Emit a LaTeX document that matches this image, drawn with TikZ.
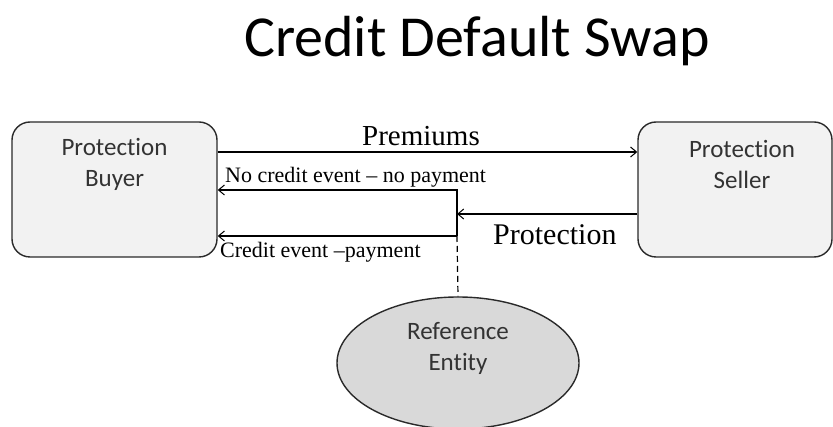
\documentclass[tikz,border=0pt]{standalone}
\usepackage{fontspec}
\setmainfont{Liberation Serif}
\newfontfamily\calibri[Ligatures=NoCommon]{Carlito}
\usetikzlibrary{shapes.geometric,arrows.meta}
\definecolor{boxfill}{HTML}{F2F2F2}
\definecolor{entityfill}{HTML}{D9D9D9}
\definecolor{edgegray}{HTML}{2A2A2A}
\definecolor{labelgray}{HTML}{333333}

\begin{document}
\begin{tikzpicture}[x=1pt,y=-1pt,
  party/.style={draw=edgegray, line width=1.4pt, fill=boxfill,
    rounded corners=18pt, minimum height=135pt, inner sep=0pt},
  entitybox/.style={ellipse, draw=edgegray, line width=1.4pt, fill=entityfill,
    minimum width=242pt, minimum height=132pt, inner sep=0pt},
  boxtext/.style={font=\calibri\fontsize{25}{31}\selectfont, text=labelgray,
    align=center, inner sep=0pt},
  flow/.style={draw=black, line width=1.2pt,
    -{Straight Barb[length=6pt,width=10pt,line width=1pt]}},
  flowlabel/.style={inner sep=0pt, text=black},
]
\useasboundingbox (0,0) rectangle (833,427);
\clip (0,0) rectangle (833,427);

% title
\node[anchor=base, inner sep=0pt, font=\calibri\fontsize{58}{64}\selectfont]
  (title) at (477,57) {Credit Default Swap};

% the two parties and the reference entity
\node[party, minimum width=205pt] (buyer) at (114.5,189.5) {};
\node[party, minimum width=194pt] (seller) at (735,189.5) {};
\node[entitybox] (entity) at (458,363) {};

\node[boxtext] (buyertext) at (114.5,164) {Protection\\Buyer};
\node[boxtext] (sellertext) at (742,164) {Protection\\Seller};
\node[boxtext] (entitytext) at (458,348) {Reference\\Entity};

% junction points on the vertical branch
\coordinate (junction) at (457,190);
\coordinate (protin) at (457,214);
\coordinate (split) at (457,236);

% premium leg
\draw[flow] ([yshift=37.5pt]buyer.east) -- ([yshift=37.5pt]seller.west);
% protection leg
\draw[flow] (seller.west |- protin) -- (protin);
% the two outcomes back to the buyer
\draw[flow] (split) -- (junction) -- (buyer.east |- junction);
\draw[flow] (split) -- (buyer.east |- split);
% link to the reference entity
\draw[line width=1.2pt, dash pattern=on 6pt off 4pt] (split) -- (entity.north);

% labels
\node[flowlabel, anchor=base, font=\fontsize{29}{32}\selectfont]
  (premlabel) at (421,146) {Premiums};
\node[flowlabel, anchor=base west, font=\fontsize{30}{33}\selectfont]
  (protlabel) at (493,245) {Protection};
\node[flowlabel, anchor=base west, font=\fontsize{22}{24}\selectfont]
  (nocredit) at (225,183) {No credit event -- no payment};
\node[flowlabel, anchor=base west, font=\fontsize{22}{24}\selectfont]
  (credit) at (220,258) {Credit event --payment};
\end{tikzpicture}
\end{document}
